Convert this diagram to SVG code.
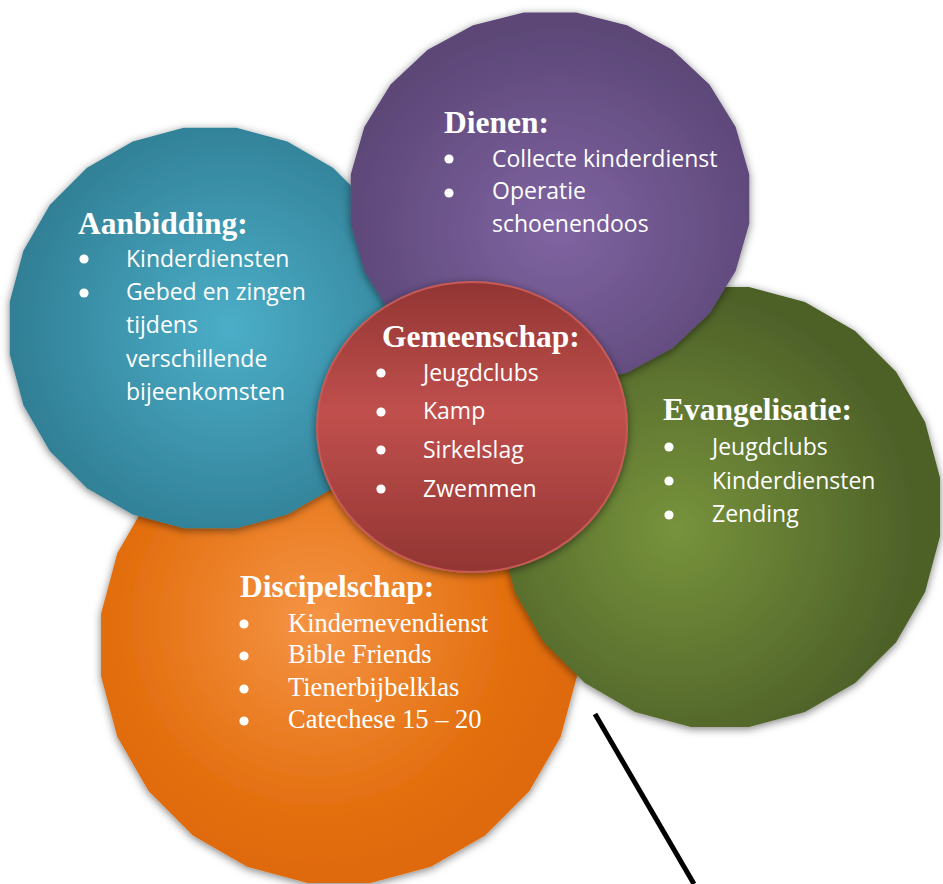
<svg xmlns="http://www.w3.org/2000/svg" xmlns:xlink="http://www.w3.org/1999/xlink" width="943" height="884" viewBox="0 0 943 884">
  <defs>
    <style>
      .title { font-family: "Liberation Serif", "Times New Roman", serif; font-weight: bold; font-size: 31.5px; fill: #ffffff; }
      .item { font-family: "Open Sans", "Noto Sans", sans-serif; font-size: 23px; fill: #ffffff; }
      .itemserif { font-family: "Liberation Serif", "Times New Roman", serif; font-size: 26.5px; fill: #ffffff; }
      .bullet { fill: #ffffff; }
      .connector { stroke: #000000; stroke-width: 5; fill: none; stroke-linecap: butt; }
    </style>
    <polygon id="poly" points=".99144,.13053 .92388,.38268 .79335,.60876 .60876,.79335 .38268,.92388 .13053,.99144 -.13053,.99144 -.38268,.92388 -.60876,.79335 -.79335,.60876 -.92388,.38268 -.99144,.13053 -.99144,-.13053 -.92388,-.38268 -.79335,-.60876 -.60876,-.79335 -.38268,-.92388 -.13053,-.99144 .13053,-.99144 .38268,-.92388 .60876,-.79335 .79335,-.60876 .92388,-.38268 .99144,-.13053"/>
    <radialGradient id="gTeal" cx="0.55" cy="0.5" r="0.55">
      <stop offset="0" stop-color="#4caec8"/>
      <stop offset="1" stop-color="#307f95"/>
    </radialGradient>
    <radialGradient id="gPurple" cx="0.52" cy="0.58" r="0.55">
      <stop offset="0" stop-color="#8064a2"/>
      <stop offset="1" stop-color="#5c4777"/>
    </radialGradient>
    <radialGradient id="gGreen" cx="0.4" cy="0.55" r="0.55">
      <stop offset="0" stop-color="#77933c"/>
      <stop offset="1" stop-color="#4d6028"/>
    </radialGradient>
    <radialGradient id="gOrange" cx="0.45" cy="0.45" r="0.55">
      <stop offset="0" stop-color="#f59445"/>
      <stop offset="0.75" stop-color="#e36e0e"/>
      <stop offset="1" stop-color="#de6a09"/>
    </radialGradient>
    <linearGradient id="gRed" x1="0" y1="0" x2="0" y2="1">
      <stop offset="0" stop-color="#923533"/>
      <stop offset="0.45" stop-color="#c0504d"/>
      <stop offset="1" stop-color="#923533"/>
    </linearGradient>
    <filter id="shadow" x="-10%" y="-10%" width="120%" height="120%">
      <feDropShadow dx="0" dy="2" stdDeviation="4" flood-color="#000000" flood-opacity="0.5"/>
    </filter>
  </defs>

  <g id="node-discipelschap">
    <g filter="url(#shadow)">
      <use xlink:href="#poly" href="#poly" transform="translate(339,645) scale(240)" fill="url(#gOrange)"/>
    </g>
    <text class="title" x="240" y="597">Discipelschap:</text>
    <circle class="bullet" cx="244" cy="624" r="4.6"/>
    <circle class="bullet" cx="244" cy="656" r="4.6"/>
    <circle class="bullet" cx="244" cy="689" r="4.6"/>
    <circle class="bullet" cx="244" cy="721" r="4.6"/>
    <text class="itemserif" x="288" y="632">Kindernevendienst</text>
    <text class="itemserif" x="288" y="663">Bible Friends</text>
    <text class="itemserif" x="288" y="696">Tienerbijbelklas</text>
    <text class="itemserif" x="288" y="728">Catechese 15 – 20</text>
  </g>

  <g id="node-aanbidding">
    <g filter="url(#shadow)">
      <use xlink:href="#poly" href="#poly" transform="translate(210,328) scale(202)" fill="url(#gTeal)"/>
    </g>
    <text class="title" x="78" y="234">Aanbidding:</text>
    <circle class="bullet" cx="84" cy="259" r="4.6"/>
    <circle class="bullet" cx="84" cy="293" r="4.6"/>
    <text class="item" x="126" y="267">Kinderdiensten</text>
    <text class="item" x="126" y="300">Gebed en zingen</text>
    <text class="item" x="126" y="333">tijdens</text>
    <text class="item" x="126" y="367">verschillende</text>
    <text class="item" x="126" y="400">bijeenkomsten</text>
  </g>

  <g id="node-evangelisatie">
    <g filter="url(#shadow)">
      <use xlink:href="#poly" href="#poly" transform="translate(720,507) scale(222)" fill="url(#gGreen)"/>
    </g>
    <text class="title" x="663" y="420">Evangelisatie:</text>
    <circle class="bullet" cx="669" cy="447" r="4.6"/>
    <circle class="bullet" cx="669" cy="481" r="4.6"/>
    <circle class="bullet" cx="669" cy="515" r="4.6"/>
    <text class="item" x="712" y="455">Jeugdclubs</text>
    <text class="item" x="712" y="489">Kinderdiensten</text>
    <text class="item" x="712" y="522">Zending</text>
  </g>

  <g id="node-dienen">
    <g filter="url(#shadow)">
      <use xlink:href="#poly" href="#poly" transform="translate(550,199) scale(201,188)" fill="url(#gPurple)"/>
    </g>
    <text class="title" x="444" y="133">Dienen:</text>
    <circle class="bullet" cx="449" cy="159" r="4.6"/>
    <circle class="bullet" cx="449" cy="193" r="4.6"/>
    <text class="item" x="492" y="167">Collecte kinderdienst</text>
    <text class="item" x="492" y="199">Operatie</text>
    <text class="item" x="492" y="232">schoenendoos</text>
  </g>

  <g id="node-gemeenschap">
    <ellipse cx="472" cy="427" rx="155" ry="145" fill="url(#gRed)" stroke="#c85a56" stroke-width="2" filter="url(#shadow)"/>
    <text class="title" x="382" y="347">Gemeenschap:</text>
    <circle class="bullet" cx="381" cy="373" r="4.6"/>
    <circle class="bullet" cx="381" cy="412" r="4.6"/>
    <circle class="bullet" cx="381" cy="450" r="4.6"/>
    <circle class="bullet" cx="381" cy="489" r="4.6"/>
    <text class="item" x="423" y="381">Jeugdclubs</text>
    <text class="item" x="423" y="419">Kamp</text>
    <text class="item" x="423" y="458">Sirkelslag</text>
    <text class="item" x="423" y="497">Zwemmen</text>
  </g>

  <g id="connectors">
    <line class="connector" x1="595" y1="714" x2="694" y2="884"/>
  </g>
</svg>
